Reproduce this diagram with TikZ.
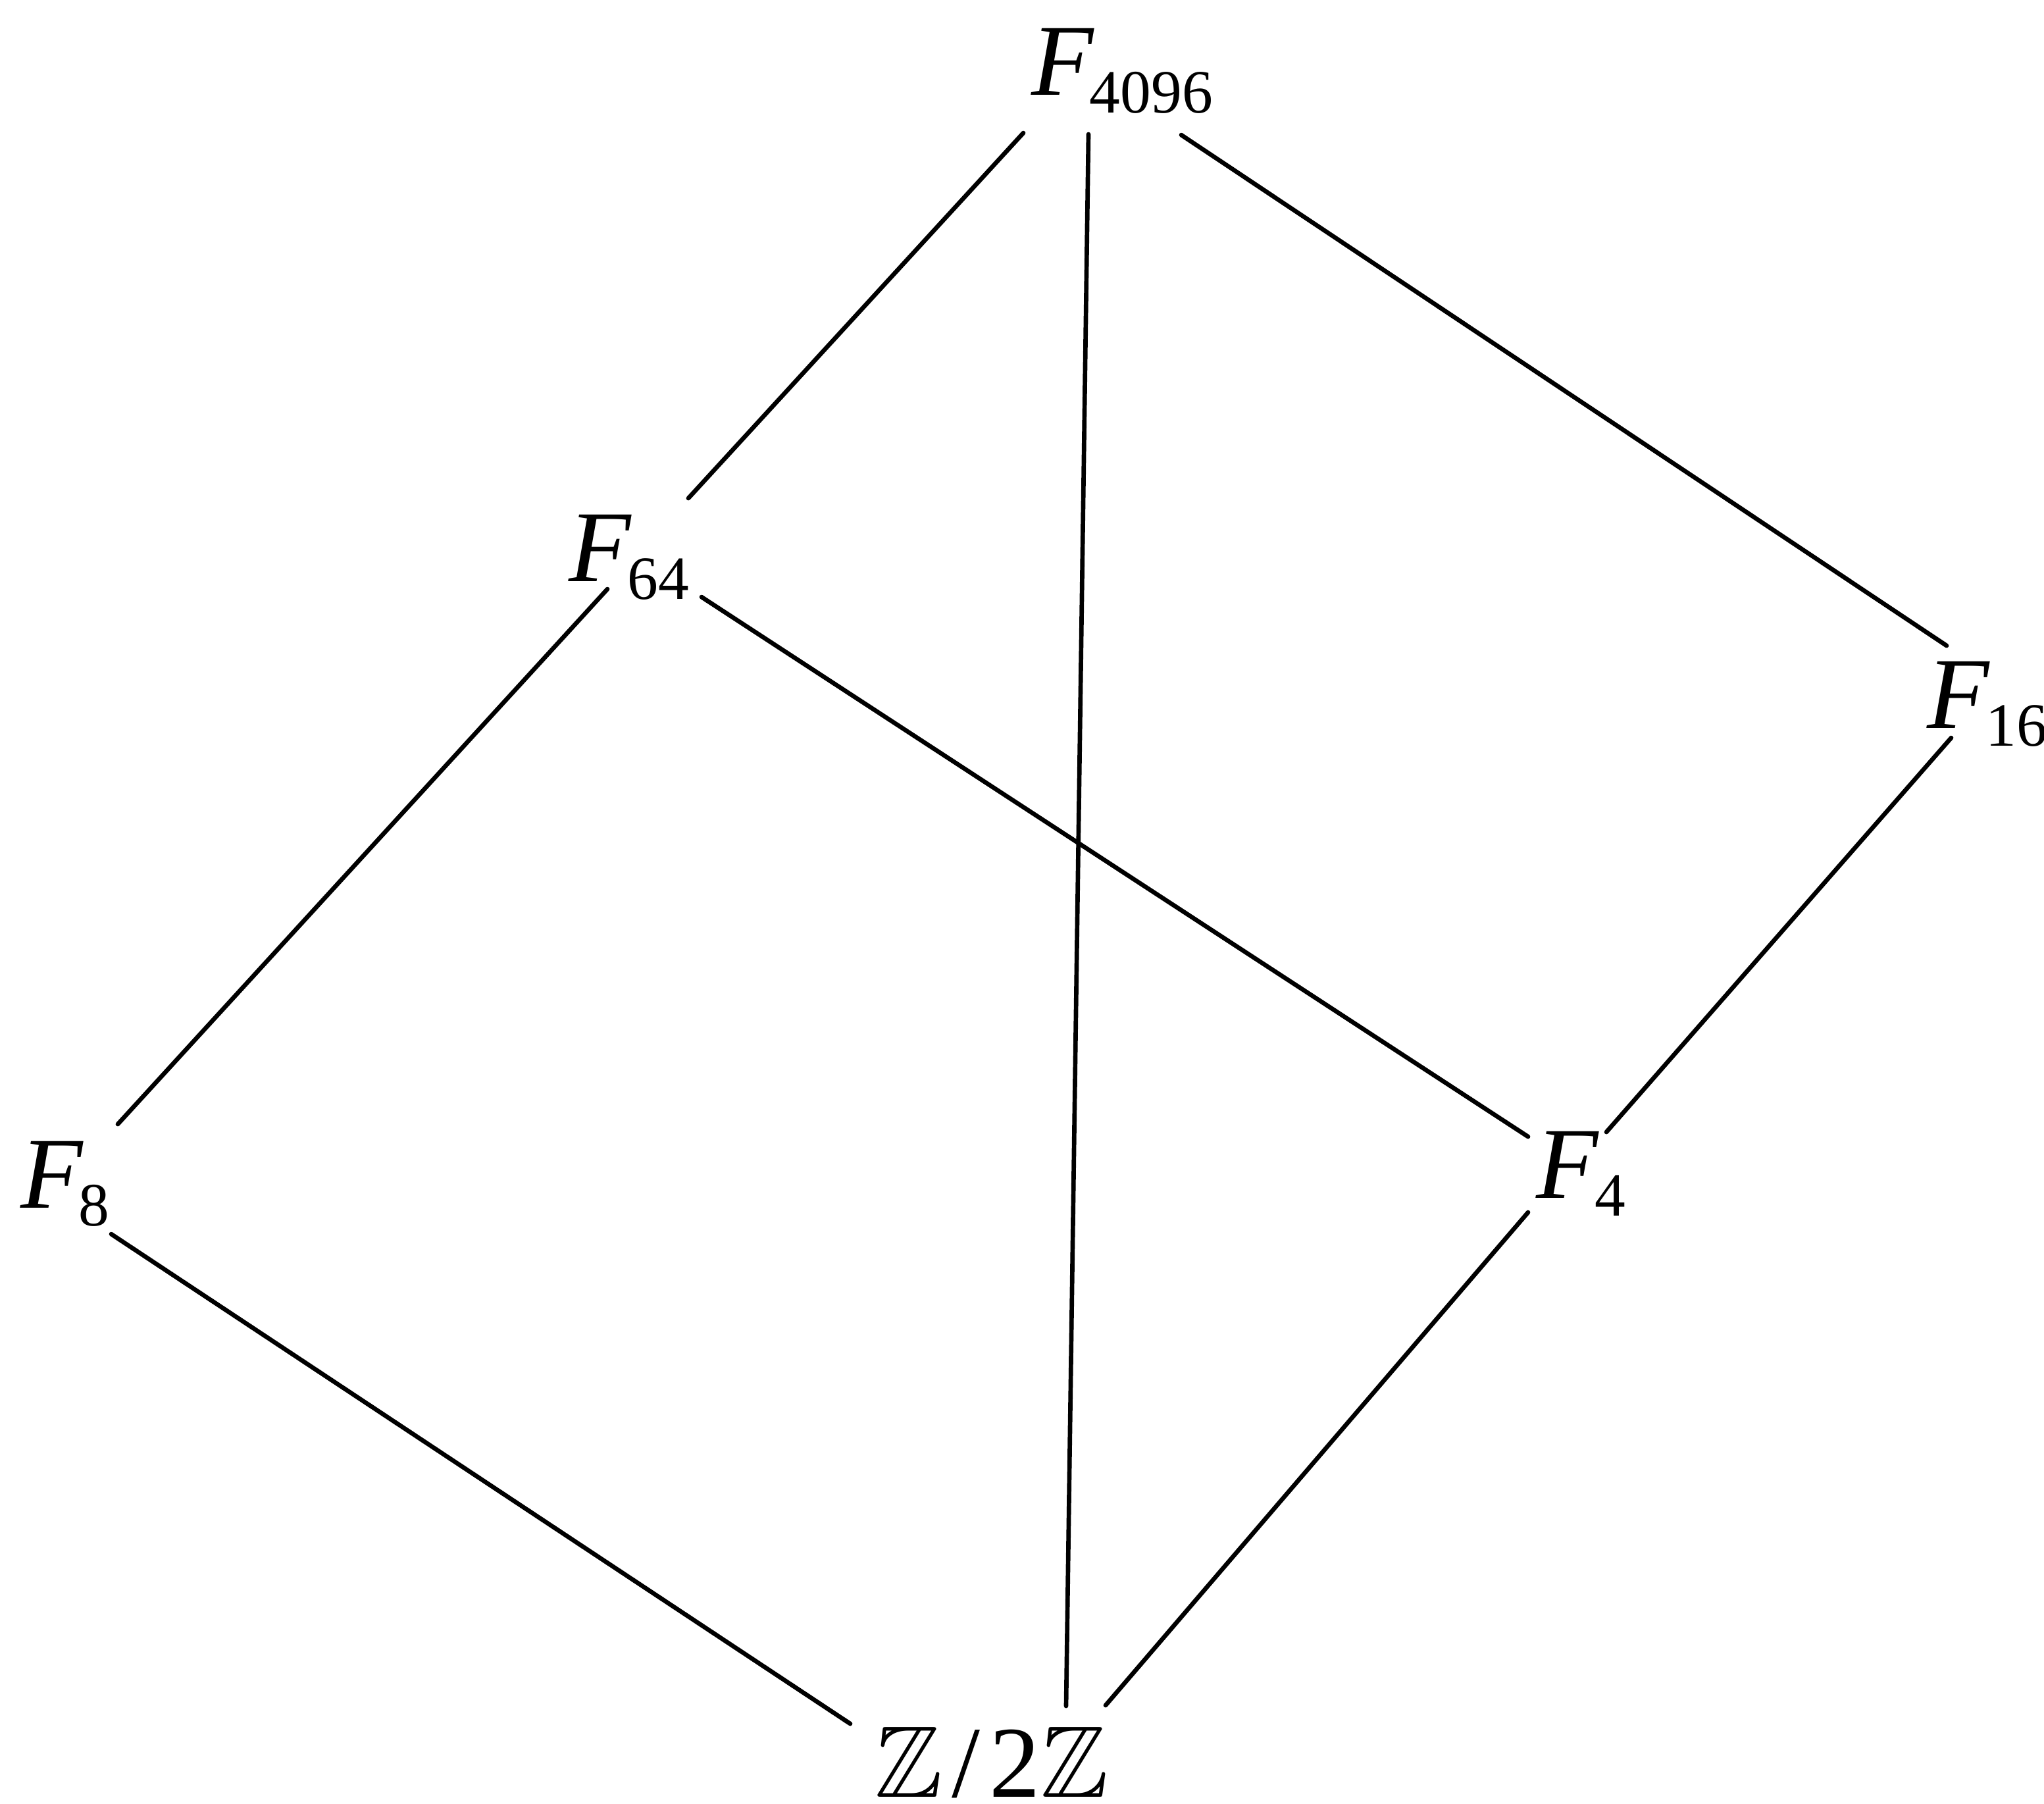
\documentclass[tikz,border=0pt]{standalone}
\usepackage{amsmath,amssymb}
\usepackage{fontspec}
\setmainfont{Liberation Serif}
\usepackage{tikz}
\usetikzlibrary{positioning,calc}

\newcommand{\fld}[1]{\textit{F}\kern-1pt\raisebox{-3.8pt}{\fontsize{13.3}{14}\selectfont #1}}

\begin{document}
\begin{tikzpicture}[
  lbl/.style={inner sep=0pt,font=\fontsize{22}{26}\selectfont},
  edge/.style={line width=0.95pt,line cap=round}
]
\useasboundingbox (0,0) rectangle (15.53,-13.70);
% the fields
\node[lbl] (f4096) at (8.525,-0.54) {\fld{4096}};
\node[lbl] (f64) at (4.78,-4.235) {\fld{64}};
\node[lbl] (f16) at (15.10,-5.35) {\fld{16}};
\node[lbl] (f8) at (0.495,-8.995) {\fld{8}};
\node[lbl] (f4) at (12.01,-8.915) {\fld{4}};
\node[lbl] (z2) at (7.535,-13.39) {$\mathbb{Z}$\kern2pt/\kern2pt2$\mathbb{Z}$};
% the inclusions
\draw[edge] ([shift={(-0.75,-0.47)}]f4096.center) -- ([shift={(0.45,0.45)}]f64.center);
\draw[edge] ([shift={(-0.255,-0.48)}]f4096.center) -- ([shift={(0.565,0.43)}]z2.center);
\draw[edge] ([shift={(0.45,-0.485)}]f4096.center) -- ([shift={(-0.31,0.445)}]f16.center);
\draw[edge] ([shift={(-0.165,-0.24)}]f64.center) -- ([shift={(0.40,0.455)}]f8.center);
\draw[edge] ([shift={(0.55,-0.30)}]f64.center) -- ([shift={(-0.40,0.28)}]f4.center);
\draw[edge] ([shift={(-0.275,-0.255)}]f16.center) -- ([shift={(0.195,0.315)}]f4.center);
\draw[edge] ([shift={(0.35,-0.38)}]f8.center) -- ([shift={(-1.075,0.295)}]z2.center);
\draw[edge] ([shift={(-0.40,-0.295)}]f4.center) -- ([shift={(0.865,0.435)}]z2.center);
\end{tikzpicture}
\end{document}
